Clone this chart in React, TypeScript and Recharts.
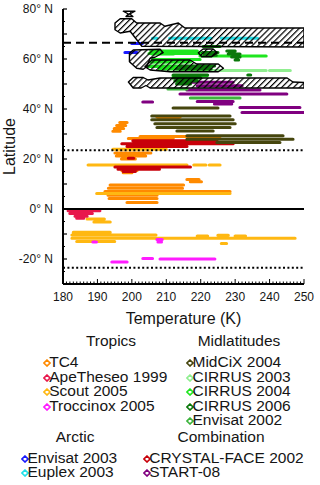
import React from 'react'
import { ComposedChart, Line, Scatter, XAxis, YAxis, ReferenceLine } from 'recharts'

// axes
const tempDomain = [180, 250]
const latDomain = [-30, 80]
const tempLabels = [180, 190, 200, 210, 220, 230, 240, 250]
const latLabels = [-20, 0, 20, 40, 60, 80]
const tempTicks = Array.from({ length: 71 }, (_, i) => 180 + i)
const latTicks = Array.from({ length: 23 }, (_, i) => -30 + i * 5)

// reference latitudes
const arcticCircle = 66.5
const tropicLats = [23.5, -23.5]
const equator = 0

// measurement streaks: [T start (K), T end (K), latitude]
const tc4 = [
  [207.3, 214.0, 36.8], [207.8, 213.5, 36.0],
  [196.5, 198.6, 34.6], [195.6, 198.2, 33.4], [194.9, 197.6, 32.2], [194.5, 196.6, 31.1],
  [202.4, 225.6, 29.0], [199.0, 212.0, 28.2],
  [195.1, 205.5, 22.4], [195.5, 204.0, 21.2], [197.0, 201.0, 20.0],
  [197.1, 201.5, 15.4], [197.5, 200.0, 14.5],
  [216.0, 219.5, 11.8], [217.0, 220.2, 10.9],
  [193.7, 215.0, 9.6], [193.2, 214.7, 8.3], [192.2, 228.5, 7.0],
  [193.1, 207.3, 5.5], [193.4, 207.3, 4.2], [198.6, 207.3, 2.6],
]
const scout = [
  [194.5, 210.0, 23.9],
  [187.3, 216.0, 17.6], [218.0, 221.5, 17.6], [222.5, 225.6, 17.6],
  [189.8, 228.5, 6.2],
  [187.0, 192.0, -4.0], [189.0, 193.7, -5.2],
  [183.0, 193.7, -9.3], [182.6, 207.0, -10.4], [182.6, 247.4, -11.7], [184.0, 195.0, -13.0],
  [219.0, 222.0, -10.8], [225.0, 228.0, -10.5], [226.0, 227.5, -13.8], [230.0, 233.0, -10.8],
]
const apeTheseo = [
  [181.5, 190.7, -0.7], [182.0, 188.5, -1.8], [183.5, 187.0, -2.9], [184.0, 186.0, -3.7],
]
const troccinox = [
  [194.2, 198.6, -21.2], [203.2, 206.0, -19.8], [208.2, 224.1, -20.0],
  [207.3, 208.8, -12.2], [207.6, 208.6, -13.2], [188.7, 189.7, -13.2],
]
const crystalFace = [
  [200.3, 224.7, 27.3], [197.1, 229.4, 26.1], [198.6, 216.0, 25.0],
  [199.0, 200.5, 20.3],
  [195.1, 217.0, 16.8], [196.0, 208.0, 15.9], [197.5, 201.0, 15.0],
]
const midcix = [
  [212.0, 225.0, 40.4],
  [205.8, 228.5, 37.2], [205.8, 229.4, 35.7], [206.7, 230.0, 34.1], [207.3, 228.5, 32.6], [213.1, 223.6, 31.2],
  [216.0, 243.9, 29.3], [216.0, 246.8, 27.9], [224.7, 243.0, 26.6],
]
const start08 = [
  [214.0, 229.4, 50.7], [219.0, 232.0, 49.3], [216.0, 237.2, 47.6], [214.0, 245.0, 46.0],
  [219.0, 229.4, 43.0], [224.0, 229.0, 42.0], [203.2, 206.0, 42.8],
  [231.4, 248.8, 40.6], [232.0, 250.0, 38.6],
]
const cirrus2003 = [
  [214.0, 239.0, 55.4], [240.0, 246.0, 55.4], [206.0, 214.0, 57.6], [206.0, 212.0, 61.8],
]
const cirrus2004 = [
  [205.5, 219.0, 63.2], [205.0, 220.0, 62.2], [219.8, 239.0, 61.2],
  [206.0, 219.8, 59.8], [205.5, 217.0, 58.8], [204.6, 218.0, 57.0], [208.0, 222.0, 56.0],
  [212.0, 221.8, 53.2], [213.0, 218.0, 52.2],
]
const cirrus2006 = [
  [220.7, 225.6, 65.0], [220.5, 225.0, 62.6], [221.0, 224.5, 61.5],
  [227.6, 230.0, 63.2], [228.0, 231.4, 62.0], [229.0, 231.4, 60.8], [230.0, 231.0, 59.6],
  [214.0, 224.0, 57.2], [213.0, 223.0, 56.0],
  [212.0, 222.0, 53.6], [212.0, 220.0, 52.4], [212.5, 219.0, 51.2], [213.0, 217.0, 50.0],
  [233.7, 234.5, 53.6],
]
const envisat2002 = [[210.5, 216.0, 48.0], [217.0, 231.4, 44.4]]
const envisat2003 = [[200.0, 203.0, 66.2], [198.0, 201.5, 62.6]]
const euplex = [[206.0, 207.3, 68.3], [211.0, 223.0, 68.3], [226.0, 236.5, 68.3]]

// hatched arctic regions: [T, latitude] vertices
const arcticTop = [[197.5, 79.1], [200.9, 79.1], [199.4, 78.0], [200.3, 77.0], [198.3, 77.0], [199.0, 78.0]]
const arcticA = [
  [195.1, 71.7], [195.1, 74.4], [196.6, 76.1], [199.95, 76.1], [201.4, 74.4], [208.2, 74.4], [209.6, 73.1],
  [213.5, 74.4], [215.4, 72.4], [250, 72.4], [250, 64.8], [202.9, 65.1], [199.5, 71.1], [196.6, 70.4],
]
const arcticB = [
  [199.3, 62.3], [200.4, 63.6], [208.2, 63.9], [209.1, 62.5], [206.7, 60.7], [205.3, 60.3],
  [204.3, 56.9], [203.3, 55.9], [201.4, 56.3], [199.3, 58.9],
]
const arcticC = [
  [203.8, 56.9], [205.8, 59.6], [216.9, 59.6], [218.8, 58.0], [225.1, 58.0], [226.6, 56.3],
  [225.1, 54.9], [211.1, 54.9], [205.3, 55.6],
]
const arcticE = [[219.3, 62.5], [220.7, 64.0], [223.6, 64.0], [224.8, 62.5], [223.2, 60.9], [220.3, 60.9]]
const arcticD = [
  [199.0, 50.8], [200.4, 52.6], [203.3, 52.6], [204.7, 51.6], [208.2, 52.4], [245.1, 52.4], [246.8, 50.8],
  [250, 50.6], [250, 48.4], [205.3, 48.4], [204.1, 49.4], [202.7, 48.4], [200.4, 48.4],
]
const arcticRegions = [arcticTop, arcticA, arcticB, arcticC, arcticE, arcticD]

// legend groups
const tropicsNames = ['TC4', 'ApeTheseo 1999', 'Scout 2005', 'Troccinox 2005']
const tropicsColors = ['#ff8a00', '#e8184c', '#ffb812', '#ff1cff']
const midlatNames = ['MidCiX 2004', 'CIRRUS 2003', 'CIRRUS 2004', 'CIRRUS 2006', 'Envisat 2002']
const midlatColors = ['#46460e', '#90ee90', '#1fe61f', '#0b780b', '#3cb43c']
const arcticNames = ['Envisat 2003', 'Euplex 2003']
const arcticColors = ['#1a1aff', '#22e0e8']
const comboNames = ['CRYSTAL-FACE 2002', 'START-08']
const comboColors = ['#c8000a', '#800080']

// drawing order (back to front)
const series = [
  { segs: tc4, color: tropicsColors[0] },
  { segs: scout, color: tropicsColors[2] },
  { segs: crystalFace, color: comboColors[0] },
  { segs: apeTheseo, color: tropicsColors[1] },
  { segs: troccinox, color: tropicsColors[3] },
  { segs: midcix, color: midlatColors[0] },
  { segs: start08, color: comboColors[1] },
  { segs: envisat2002, color: midlatColors[4] },
  { segs: cirrus2003, color: midlatColors[1] },
  { segs: cirrus2004, color: midlatColors[2] },
  { segs: cirrus2006, color: midlatColors[3] },
  { segs: envisat2003, color: arcticColors[0] },
  { segs: euplex, color: arcticColors[1] },
]

const toStreaks = (segs: number[][]) =>
  segs.flatMap(([a, b, lat]) => [{ x: a, y: lat }, { x: b, y: lat }, { x: b, y: null }])
const toPts = (poly: number[][]) => poly.map(([x, y]) => ({ x, y }))

const FONT = '"Liberation Sans", Arial, Helvetica, sans-serif'
const TEXT = '#151515'

const BottomTick = (p: any) => {
  const v = p.payload.value
  const major = tempLabels.includes(v)
  return (
    <g>
      <line x1={p.x} x2={p.x} y1={p.y} y2={p.y - (major ? 5 : 2.5)} stroke="#000" strokeWidth={1} />
      {major && (
        <text x={p.x} y={p.y + 17} textAnchor="middle" fontSize={12} fill={TEXT} fontFamily={FONT}>{v}</text>
      )}
    </g>
  )
}
const TopTick = (p: any) => {
  const major = tempLabels.includes(p.payload.value)
  return <line x1={p.x} x2={p.x} y1={p.y} y2={p.y + (major ? 5 : 2.5)} stroke="#000" strokeWidth={1} />
}
const LeftTick = (p: any) => {
  const v = p.payload.value
  const major = v % 10 === 0
  return (
    <g>
      <line x1={p.x} x2={p.x + (major ? 4 : 2)} y1={p.y} y2={p.y} stroke="#000" strokeWidth={1.2} />
      {latLabels.includes(v) && (
        <text x={p.x - 10} y={p.y + 4} textAnchor="end" fontSize={12} fill={TEXT} fontFamily={FONT}>{`${v}° N`}</text>
      )}
    </g>
  )
}
const RightTick = (p: any) => {
  const major = p.payload.value % 10 === 0
  return <line x1={p.x} x2={p.x - (major ? 4 : 2)} y1={p.y} y2={p.y} stroke="#000" strokeWidth={1.2} />
}
const LatLabel = (p: any) => {
  const vb = p.viewBox || { x: 0, y: 9, width: 63, height: 275 }
  const cy = vb.y + vb.height / 2
  return (
    <text transform={`translate(${vb.x + 15},${cy}) rotate(-90)`} textAnchor="middle" fontSize={16} fill={TEXT} fontFamily={FONT}>
      Latitude
    </text>
  )
}

const polyLine = (p: any) => {
  const pts = p.points || []
  if (!pts.length) return <g />
  const d = pts.map((pt: any, i: number) => `${i ? 'L' : 'M'}${pt.x},${pt.y}`).join('') + 'Z'
  return <path d={d} fill="url(#hatch)" stroke="#000" strokeWidth={1.4} strokeLinejoin="round" />
}
const noDot = () => <g />

function Diamond({ color }: { color: string }) {
  return (
    <svg width={8} height={8} style={{ display: 'block' }}>
      <path d="M4,1 L7,4 L4,7 L1,4 Z" fill="none" stroke={color} strokeWidth={1.6} />
    </svg>
  )
}

function Group({ title, titleX, titleY, markerX, rowY, names, colors }: any) {
  return (
    <>
      <div style={{ position: 'absolute', left: titleX - 80, width: 160, top: titleY - 7, height: 14, textAlign: 'center', fontSize: 15.5, lineHeight: '14px', color: TEXT }}>
        {title}
      </div>
      {names.map((n: string, i: number) => (
        <div key={n} style={{ position: 'absolute', left: markerX - 4, top: rowY + i * 14.6 - 7, height: 14, display: 'flex', alignItems: 'center', fontSize: 15.5, lineHeight: '14px', color: TEXT, whiteSpace: 'nowrap' }}>
          <div style={{ marginTop: 2 }}><Diamond color={colors[i]} /></div>
          <span style={{ marginLeft: -1.5 }}>{n}</span>
        </div>
      ))}
    </>
  )
}

export default function App() {
  return (
    <div style={{ position: 'absolute', left: 0, top: 0, width: 320, height: 485, background: '#fff', fontFamily: FONT, overflow: 'hidden' }}>
      <ComposedChart width={320} height={330} margin={{ top: 9, right: 16, bottom: 6, left: 0 }}>
        <defs>
          <pattern id="hatch" width="4.2" height="4.2" patternUnits="userSpaceOnUse" patternTransform="rotate(45)">
            <line x1="0.6" y1="0" x2="0.6" y2="4.2" stroke="#000" strokeWidth="1.2" />
          </pattern>
        </defs>
        <XAxis
          xAxisId={0} dataKey="x" type="number" domain={tempDomain} allowDataOverflow ticks={tempTicks} interval={0}
          height={40} tickSize={0} tickMargin={0} tickLine={false} tick={BottomTick}
          axisLine={{ stroke: '#000', strokeWidth: 2 }}
          label={{ value: 'Temperature (K)', position: 'insideBottom', offset: 0, fontSize: 16, fill: TEXT, fontFamily: FONT }}
        />
        <XAxis
          xAxisId="top" orientation="top" dataKey="x" type="number" domain={tempDomain} allowDataOverflow ticks={tempTicks}
          interval={0} height={0} tickSize={0} tickMargin={0} tickLine={false} tick={TopTick}
          axisLine={{ stroke: '#000', strokeWidth: 2 }}
        />
        <YAxis
          yAxisId={0} dataKey="y" type="number" domain={latDomain} allowDataOverflow ticks={latTicks} interval={0}
          width={63} tickSize={0} tickMargin={0} tickLine={false} tick={LeftTick}
          axisLine={{ stroke: '#000', strokeWidth: 2 }} label={<LatLabel />}
        />
        <YAxis
          yAxisId="right" orientation="right" dataKey="y" type="number" domain={latDomain} allowDataOverflow ticks={latTicks}
          interval={0} width={0} tickSize={0} tickMargin={0} tickLine={false} tick={RightTick}
          axisLine={{ stroke: '#000', strokeWidth: 2 }}
        />
        {series.map((s, i) => (
          <Line
            key={i} data={toStreaks(s.segs)} dataKey="y" stroke={s.color} strokeWidth={3.2} strokeLinecap="round"
            dot={false} activeDot={false} connectNulls={false} isAnimationActive={false}
          />
        ))}
        <ReferenceLine y={arcticCircle} stroke="#000" strokeWidth={2} strokeDasharray="8 5" />
        {tropicLats.map((v) => (
          <ReferenceLine key={v} y={v} stroke="#000" strokeWidth={2} strokeDasharray="2 2.4" />
        ))}
        <ReferenceLine y={equator} stroke="#000" strokeWidth={2} />
        {arcticRegions.map((poly, i) => (
          <Scatter
            key={`poly${i}`} data={toPts(poly)} line={polyLine} lineType="joint" shape={noDot}
            isAnimationActive={false}
          />
        ))}
      </ComposedChart>
      <Group title="Tropics" titleX={111} titleY={340.7} markerX={46.7} rowY={362} names={tropicsNames} colors={tropicsColors} />
      <Group title="Midlatitudes" titleX={239} titleY={340.7} markerX={190} rowY={362} names={midlatNames} colors={midlatColors} />
      <Group title="Arctic" titleX={75} titleY={436.7} markerX={25} rowY={457.5} names={arcticNames} colors={arcticColors} />
      <Group title="Combination" titleX={221} titleY={436.7} markerX={146.7} rowY={457.5} names={comboNames} colors={comboColors} />
    </div>
  )
}
